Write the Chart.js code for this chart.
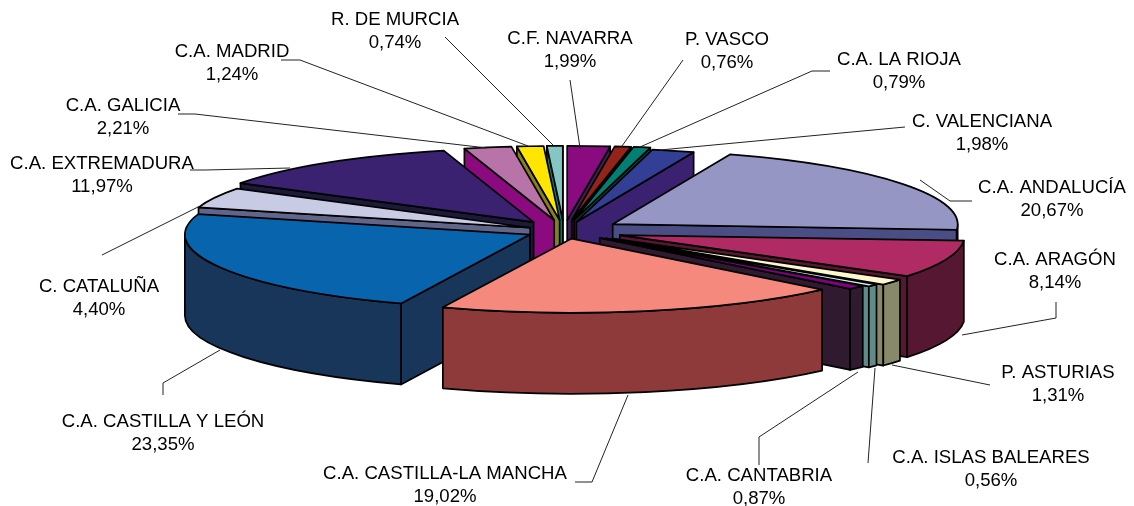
<!DOCTYPE html>
<html>
<head>
<meta charset="utf-8">
<script src="https://cdn.jsdelivr.net/npm/chart.js@4/dist/chart.umd.min.js"></script>
<style>
  html, body { margin: 0; padding: 0; background: #fff; }
  #wrap { width: 1134px; height: 506px; }
</style>
</head>
<body>
<div id="wrap"><canvas id="pie" width="1134" height="506"></canvas></div>
<script>
const categories = ['C.F. NAVARRA', 'P. VASCO', 'C.A. LA RIOJA', 'C. VALENCIANA', 'C.A. ANDALUCÍA', 'C.A. ARAGÓN',
  'P. ASTURIAS', 'C.A. ISLAS BALEARES', 'C.A. CANTABRIA', 'C.A. CASTILLA-LA MANCHA', 'C.A. CASTILLA Y LEÓN',
  'C. CATALUÑA', 'C.A. EXTREMADURA', 'C.A. GALICIA', 'C.A. MADRID', 'R. DE MURCIA']
const values = [1.99, 0.76, 0.79, 1.98, 20.67, 8.14, 1.31, 0.56, 0.87, 19.02, 23.35, 4.40, 11.97, 2.21, 1.24, 0.74]

const topColors = ['#8a0a80', '#94231a', '#008073', '#333f94', '#9696c4', '#b02a63', '#fff8cc', '#cdefef',
  '#800080', '#f6897e', '#0864ac', '#c8cbe4', '#3a2270', '#b873a9', '#ffe500', '#85c5c3']
const sideColors = ['#3d1d5a', '#4a120d', '#004a40', '#3a2270', '#4a4e85', '#561732', '#88896a', '#5f8b88',
  '#2f1a2f', '#8f3a3a', '#18355a', '#62658a', '#1c1a38', '#8b0a7e', '#85801f', '#007f7f']
// how far each slice is pulled out of the pie
const explode = [51, 52, 52, 44, 58, 59, 60, 54, 48, 36, 38, 37, 51, 51, 51, 51]

// label centres, one pair per category
const labelX = [570, 727, 899, 982, 1052, 1055, 1058, 991, 759, 445, 163, 99, 102, 123, 232, 395]
const labelY = [39, 40, 60, 122, 188, 260, 373, 458, 476, 474, 422, 287, 164, 106, 52, 20]

// leader lines
const leaders = [
  [[570, 80], [580, 148]],
  [[683, 60], [622, 146]],
  [[830, 71], [812, 71], [640, 147]],
  [[905, 127], [660, 150]],
  [[972, 201], [950, 201], [920, 180]],
  [[1056, 302], [1056, 318], [962, 335]],
  [[990, 385], [892, 365]],
  [[868, 463], [875, 368]],
  [[759, 465], [759, 437], [858, 372]],
  [[575, 482], [592, 482], [628, 395]],
  [[163, 395], [163, 383], [220, 350]],
  [[102, 255], [198, 207]],
  [[190, 170], [205, 170], [290, 168]],
  [[178, 114], [195, 114], [487, 148]],
  [[281, 60], [300, 60], [528, 146]],
  [[445, 37], [553, 145]]
]

const tilt = 0.215
const depth = 81

const pie3d = {
  id: 'pie3d',
  beforeDatasetDraw(chart, args) {
    const ctx = chart.ctx
    const arcs = chart.getDatasetMeta(args.index).data
    const order = arcs.map((arc, i) => i).sort((a, b) => {
      const ma = (arcs[a].startAngle + arcs[a].endAngle) / 2
      const mb = (arcs[b].startAngle + arcs[b].endAngle) / 2
      return Math.sin(ma) - Math.sin(mb)
    })
    ctx.save()
    ctx.lineWidth = 1.7
    ctx.lineJoin = 'round'
    ctx.strokeStyle = '#000'
    order.forEach(i => drawSlice(ctx, arcs[i], sideColors[i]))
    ctx.restore()
    return false
  },
  afterDraw(chart) {
    const ctx = chart.ctx
    ctx.save()
    ctx.strokeStyle = '#222'
    ctx.lineWidth = 1
    leaders.forEach(pts => {
      ctx.beginPath()
      pts.forEach((p, i) => i ? ctx.lineTo(p[0], p[1]) : ctx.moveTo(p[0], p[1]))
      ctx.stroke()
    })
    ctx.fillStyle = '#000'
    ctx.font = '18.6px "Liberation Sans"'
    ctx.textAlign = 'center'
    ctx.textBaseline = 'middle'
    categories.forEach((name, i) => {
      ctx.fillText(name, labelX[i], labelY[i])
      ctx.fillText(values[i].toFixed(2).replace('.', ',') + '%', labelX[i], labelY[i] + 23)
    })
    ctx.restore()
  }
}

function drawSlice(ctx, arc, sideColor) {
  const { startAngle, endAngle, outerRadius: r, x, y } = arc
  const mid = (startAngle + endAngle) / 2
  const off = arc.options.offset
  const ax = x + Math.cos(mid) * off
  const ay = y + Math.sin(mid) * off * tilt
  const px = a => ax + Math.cos(a) * r
  const py = a => ay + Math.sin(a) * r * tilt

  ctx.fillStyle = sideColor
  // cut faces, only those turned towards the viewer
  const cut = a => {
    ctx.beginPath()
    ctx.moveTo(ax, ay)
    ctx.lineTo(px(a), py(a))
    ctx.lineTo(px(a), py(a) + depth)
    ctx.lineTo(ax, ay + depth)
    ctx.closePath()
    ctx.fill()
    ctx.stroke()
  }
  if (-Math.cos(startAngle) > 0) cut(startAngle)
  if (Math.cos(endAngle) > 0) cut(endAngle)

  // outer wall, front half of the ellipse only
  const from = Math.max(startAngle, 0)
  const to = Math.min(endAngle, Math.PI)
  if (to > from) {
    ctx.beginPath()
    ctx.ellipse(ax, ay, r, r * tilt, 0, from, to)
    ctx.ellipse(ax, ay + depth, r, r * tilt, 0, to, from, true)
    ctx.closePath()
    ctx.fill()
    ctx.stroke()
  }

  // top
  ctx.fillStyle = arc.options.backgroundColor
  ctx.beginPath()
  ctx.moveTo(ax, ay)
  ctx.ellipse(ax, ay, r, r * tilt, 0, startAngle, endAngle)
  ctx.closePath()
  ctx.fill()
  ctx.stroke()
}

new Chart(document.getElementById('pie'), {
  type: 'pie',
  data: {
    labels: categories,
    datasets: [{
      data: values,
      backgroundColor: topColors,
      borderColor: '#000',
      borderWidth: 1.5,
      offset: explode
    }]
  },
  options: {
    responsive: false,
    animation: false,
    radius: 345,
    layout: { padding: { right: 6, bottom: 44 } },
    plugins: { legend: { display: false }, tooltip: { enabled: false } }
  },
  plugins: [pie3d]
})
</script>
</body>
</html>
